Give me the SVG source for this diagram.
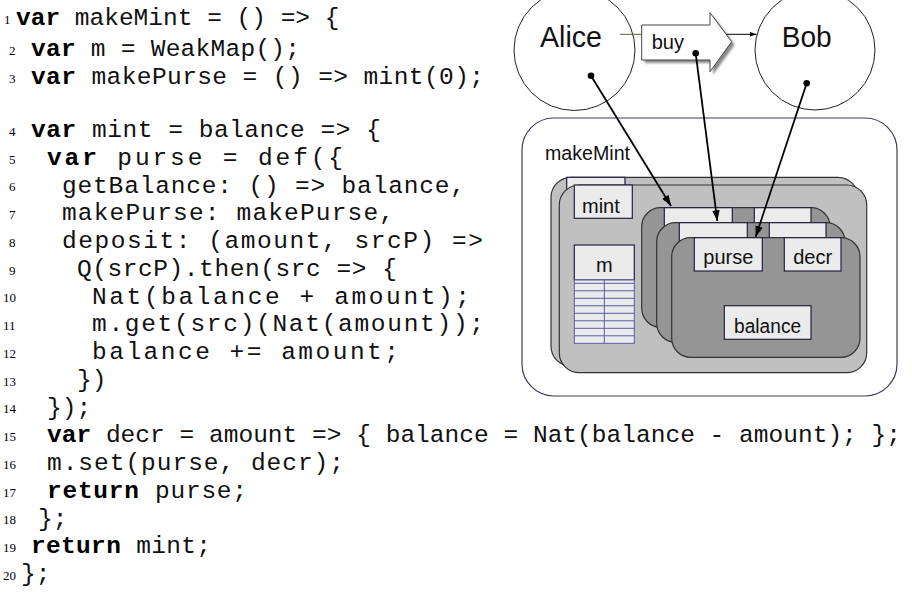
<svg xmlns="http://www.w3.org/2000/svg" width="912" height="614" viewBox="0 0 912 614">
  <style>
    .code { font-family: "Liberation Mono", "Courier New", monospace; font-size: 24.5px; fill: #111; }
    .kw { font-weight: bold; fill: #000; }
    .ln { font-family: "Liberation Serif", "Times New Roman", serif; font-size: 13px; fill: #000; }
    .lbl { font-family: "Liberation Sans", Arial, sans-serif; font-size: 20px; fill: #111; }
    .big { font-size: 30px; }
    .actor { fill: #fff; stroke: #222; stroke-width: 1; }
    .scope { fill: #fff; stroke: #3c3c5a; stroke-width: 1.2; }
    .mintLayer { fill: #c0c0c0; stroke: #333; stroke-width: 1.2; }
    .purseLayer { fill: #959595; stroke: #333; stroke-width: 1.2; }
    .box { fill: #ebebeb; stroke: #22223f; stroke-width: 1.2; }
    .tbl { fill: #ebebeb; stroke: #5a5aa8; stroke-width: 1; }
    .ptr { stroke: #000; stroke-width: 1.8; fill: none; marker-end: url(#head); }
    .dot { fill: #000; }
  </style>
  <defs>
    <marker id="head" viewBox="0 0 10 10" refX="10" refY="5" markerWidth="6" markerHeight="6" markerUnits="strokeWidth" orient="auto">
      <path d="M0,1.5 L10,5 L0,8.5 Z" fill="#000"/>
    </marker>
    <marker id="smallHead" viewBox="0 0 10 10" refX="10" refY="5" markerWidth="7" markerHeight="7" markerUnits="userSpaceOnUse" orient="auto">
      <path d="M0,1.5 L10,5 L0,8.5 Z" fill="#000"/>
    </marker>
    <filter id="soft" x="-10%" y="-10%" width="130%" height="130%">
      <feGaussianBlur stdDeviation="1.2"/>
    </filter>
  </defs>

  <!-- source listing -->
  <g id="listing">
    <g id="line-numbers">
      <text class="ln" x="4" y="24">1</text>
      <text class="ln" x="9" y="55">2</text>
      <text class="ln" x="9" y="83">3</text>
      <text class="ln" x="9" y="136">4</text>
      <text class="ln" x="9" y="164">5</text>
      <text class="ln" x="9" y="191">6</text>
      <text class="ln" x="9" y="219">7</text>
      <text class="ln" x="9" y="247">8</text>
      <text class="ln" x="9" y="275">9</text>
      <text class="ln" x="3" y="302">10</text>
      <text class="ln" x="3" y="330">11</text>
      <text class="ln" x="3" y="358">12</text>
      <text class="ln" x="3" y="386">13</text>
      <text class="ln" x="3" y="413">14</text>
      <text class="ln" x="3" y="441">15</text>
      <text class="ln" x="3" y="469">16</text>
      <text class="ln" x="3" y="497">17</text>
      <text class="ln" x="3" y="524">18</text>
      <text class="ln" x="3" y="552">19</text>
      <text class="ln" x="3" y="580">20</text>
    </g>
    <g id="code-lines">
      <text class="code" x="16" y="25"><tspan class="kw">var</tspan> makeMint = () =&gt; {</text>
      <text class="code" x="31" y="56" textLength="269" lengthAdjust="spacing"><tspan class="kw">var</tspan> m = WeakMap();</text>
      <text class="code" x="31" y="84" textLength="453" lengthAdjust="spacing"><tspan class="kw">var</tspan> makePurse = () =&gt; mint(0);</text>
      <text class="code" x="31" y="137" textLength="350" lengthAdjust="spacing"><tspan class="kw">var</tspan> mint = balance =&gt; {</text>
      <text class="code" x="47" y="165" textLength="296" lengthAdjust="spacing"><tspan class="kw">var</tspan> purse = def({</text>
      <text class="code" x="62" y="192.5" textLength="403" lengthAdjust="spacing">getBalance: () =&gt; balance,</text>
      <text class="code" x="62" y="220.3" textLength="332" lengthAdjust="spacing">makePurse: makePurse,</text>
      <text class="code" x="62" y="248" textLength="421" lengthAdjust="spacing">deposit: (amount, srcP) =&gt;</text>
      <text class="code" x="77" y="275.8" textLength="320" lengthAdjust="spacing">Q(srcP).then(src =&gt; {</text>
      <text class="code" x="92" y="303.5" textLength="378" lengthAdjust="spacing">Nat(balance + amount);</text>
      <text class="code" x="92" y="331.3" textLength="392" lengthAdjust="spacing">m.get(src)(Nat(amount));</text>
      <text class="code" x="92" y="359" textLength="307" lengthAdjust="spacing">balance += amount;</text>
      <text class="code" x="77" y="386.8">})</text>
      <text class="code" x="47" y="414.5">});</text>
      <text class="code" x="47" y="442.3" textLength="854" lengthAdjust="spacing"><tspan class="kw">var</tspan> decr = amount =&gt; { balance = Nat(balance - amount); };</text>
      <text class="code" x="47" y="470" textLength="297" lengthAdjust="spacing">m.set(purse, decr);</text>
      <text class="code" x="47" y="497.8" textLength="200" lengthAdjust="spacing"><tspan class="kw">return</tspan> purse;</text>
      <text class="code" x="38" y="525.5">};</text>
      <text class="code" x="31" y="553.3" textLength="180" lengthAdjust="spacing"><tspan class="kw">return</tspan> mint;</text>
      <text class="code" x="21" y="581">};</text>
    </g>
  </g>

  <!-- object graph -->
  <g id="makeMint">
    <rect class="scope" x="522" y="118" width="375" height="278" rx="32"/>
    <text class="lbl" x="545" y="160" font-size="19" textLength="85" lengthAdjust="spacingAndGlyphs">makeMint</text>

    <g id="mint">
      <!-- earlier mint closure, mostly hidden -->
      <rect class="mintLayer" x="551" y="177.3" width="307" height="189" rx="20"/>
      <rect class="box" x="566.7" y="177.3" width="58.3" height="33.3"/>
      <!-- current mint closure -->
      <rect class="mintLayer" x="559.3" y="185" width="307.4" height="187.7" rx="20"/>
      <rect class="box" x="574.3" y="185" width="58" height="33.3"/>
      <text class="lbl" x="582" y="212.5">mint</text>
    </g>

    <g id="weakmap">
      <rect class="box" x="574.3" y="245" width="60" height="35"/>
      <text class="lbl" x="604.3" y="271.5" text-anchor="middle">m</text>
      <rect class="tbl" x="574.3" y="280" width="60" height="63.3"/>
      <path class="tbl" fill="none" d="M604.3,280 V343.3 M574.3,283.3 H634.3 M574.3,290.8 H634.3 M574.3,298.3 H634.3 M574.3,305.8 H634.3 M574.3,313.3 H634.3 M574.3,320.8 H634.3 M574.3,328.3 H634.3 M574.3,335.8 H634.3"/>
    </g>

    <g id="purse-1">
      <rect class="purseLayer" x="641.7" y="207.7" width="188.3" height="119.6" rx="19"/>
      <rect class="box" x="664.3" y="207.7" width="68" height="33.3"/>
      <rect class="box" x="754.3" y="207.7" width="56.7" height="33.3"/>
    </g>
    <g id="purse-2">
      <rect class="purseLayer" x="656.7" y="222.7" width="188.3" height="119.6" rx="19"/>
      <rect class="box" x="679.3" y="222.7" width="68" height="33.3"/>
      <rect class="box" x="769.3" y="222.7" width="56.7" height="33.3"/>
    </g>
    <g id="purse-3">
      <rect class="purseLayer" x="671.7" y="237.7" width="188.3" height="119.6" rx="19"/>
      <rect class="box" x="694.3" y="237.7" width="68" height="33.3"/>
      <text class="lbl" x="728.3" y="263.5" text-anchor="middle">purse</text>
      <rect class="box" x="784.3" y="237.7" width="56.7" height="33.3"/>
      <text class="lbl" x="812.6" y="263.5" text-anchor="middle">decr</text>
      <rect class="box" x="724.3" y="305.7" width="86.7" height="33.6"/>
      <text class="lbl" x="767.6" y="333" text-anchor="middle" textLength="67" lengthAdjust="spacingAndGlyphs">balance</text>
    </g>
  </g>

  <g id="alice">
    <circle class="actor" cx="574.5" cy="50" r="60.5"/>
    <text class="lbl big" x="540" y="46.7" textLength="62" lengthAdjust="spacingAndGlyphs">Alice</text>
  </g>

  <g id="bob">
    <circle class="actor" cx="815" cy="50" r="60"/>
    <text class="lbl big" x="781.7" y="46.7" textLength="50" lengthAdjust="spacingAndGlyphs">Bob</text>
  </g>

  <g id="buy">
    <polygon points="641.7,25 710,25 710,12.7 731.7,41.7 710,71.7 710,60 641.7,60" fill="#8a8a8a" transform="translate(3,3)" filter="url(#soft)"/>
    <polygon points="641.7,25 710,25 710,12.7 731.7,41.7 710,71.7 710,60 641.7,60" fill="#fff" stroke="#444" stroke-width="1"/>
    <text class="lbl" x="651.7" y="49">buy</text>
  </g>

  <g id="connectors">
    <line x1="620" y1="34.3" x2="641.7" y2="34.3" stroke="#5c5a3a" stroke-width="1"/>
    <line x1="726.2" y1="34.3" x2="756.5" y2="34.3" stroke="#000" stroke-width="1" marker-end="url(#smallHead)"/>
    <circle class="dot" cx="591" cy="75.7" r="3.3"/>
    <line class="ptr" x1="591" y1="75.7" x2="671" y2="206"/>
    <circle class="dot" cx="695.7" cy="53.3" r="3.3"/>
    <line class="ptr" x1="695.7" y1="53.3" x2="717.3" y2="221"/>
    <circle class="dot" cx="806.7" cy="83.3" r="3.3"/>
    <line class="ptr" x1="806.7" y1="83.3" x2="755.7" y2="236.7"/>
  </g>
</svg>
